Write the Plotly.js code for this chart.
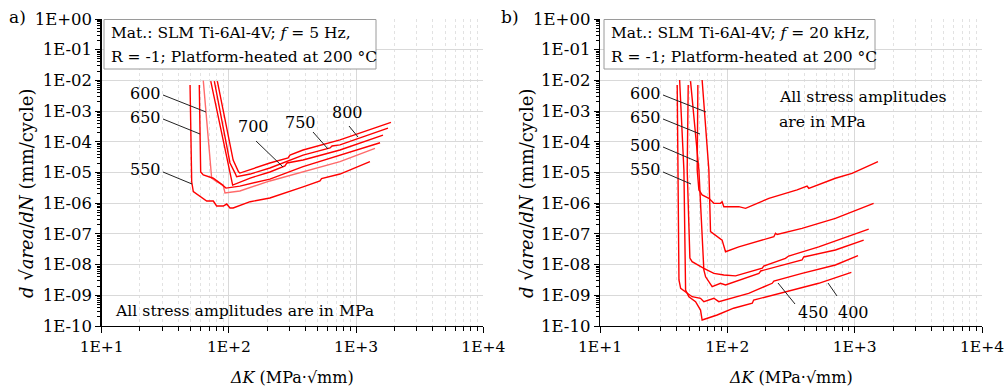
<!DOCTYPE html>
<html><head><meta charset="utf-8">
<script src="https://cdn.plot.ly/plotly-3.0.1.min.js"></script>
<style>html,body{margin:0;padding:0;background:#fff}</style>
</head><body><div id="chart" style="width:1005px;height:391px"></div>
<script>
// ---------- data: panel a) f = 5 Hz ----------
const a550x = [49.5, 51.0, 52.5, 62.9, 66.9, 75.4, 80.1, 90.3, 96.1, 102, 108, 147, 210, 383, 520, 535, 747, 1285];
const a550y = [7.1e-3, 5.0e-6, 2.4e-6, 1.48e-6, 1.18e-6, 1.18e-6, 8.1e-7, 8.1e-7, 9.4e-7, 7.0e-7, 7.0e-7, 1.12e-6, 1.48e-6, 3.4e-6, 5.3e-6, 6.3e-6, 8.9e-6, 2.25e-5];
const a600x = [62.9, 73.2, 80.1, 90.3, 93.1, 122, 210, 383, 747, 1408];
const a600y = [9.8e-3, 6.5e-6, 5.0e-6, 3.9e-6, 2.15e-6, 2.5e-6, 5.3e-6, 1.06e-5, 2.25e-5, 6.1e-5];
const a650x = [58.5, 60.0, 62.9, 75.4, 85.1, 94.9, 122, 210, 383, 747, 1543];
const a650y = [7.1e-3, 1.04e-5, 8.3e-6, 6.5e-6, 4.5e-6, 3.1e-6, 3.6e-6, 6.1e-6, 1.55e-5, 3.7e-5, 9.3e-5];
const a700x = [72.0, 98.9, 102, 105, 107, 147, 210, 276, 286, 383, 747, 1627];
const a700y = [9.5e-3, 1.75e-5, 8.3e-6, 5.0e-6, 3.9e-6, 6.6e-6, 1.04e-5, 1.63e-5, 2.04e-5, 2.55e-5, 5.4e-5, 1.66e-4];
const a750x = [76.8, 102, 112, 115, 147, 210, 383, 624, 647, 747, 1781];
const a750y = [9.5e-3, 2.04e-5, 9.4e-6, 7.3e-6, 8.9e-6, 1.40e-5, 3.7e-5, 6.3e-5, 7.3e-5, 7.9e-5, 2.8e-4];
const a800x = [81.1, 108, 119, 122, 210, 292, 302, 383, 747, 1880];
const a800y = [9.5e-3, 2.55e-5, 1.06e-5, 9.6e-6, 2.04e-5, 2.97e-5, 3.7e-5, 5.4e-5, 1.15e-4, 4.3e-4];

// ---------- data: panel b) f = 20 kHz ----------
const b650x = [58.7, 58.0, 59.8, 63.4, 71.6, 78.4, 88.4, 91.0, 93.9, 96.8, 123, 139, 212, 353, 423, 436, 706, 953, 1524];
const b650y = [7.1e-3, 1.21e-5, 2.7e-6, 1.85e-6, 1.44e-6, 9.9e-7, 9.9e-7, 1.12e-6, 7.7e-7, 7.7e-7, 7.7e-7, 6.8e-7, 1.44e-6, 2.7e-6, 3.6e-6, 3.06e-6, 6.5e-6, 9.4e-6, 2.25e-5];
const b600x = [63.4, 71.6, 73.8, 80.8, 91.0, 96.8, 123, 232, 239, 246, 386, 706, 1409];
const b600y = [1.03e-2, 1.21e-5, 1.18e-7, 9.2e-8, 6.3e-8, 2.63e-8, 3.8e-8, 8.1e-8, 1.05e-7, 9.6e-8, 1.52e-7, 3.2e-7, 9.9e-7];
const b550x = [49.3, 48.4, 50.8, 52.9, 65.4, 69.5, 78.4, 93.9, 116, 188, 193, 286, 303, 522, 1289];
const b550y = [7.1e-3, 1.21e-5, 1.64e-8, 1.24e-8, 7.6e-9, 6.7e-9, 5.2e-9, 4.6e-9, 4.3e-9, 7.6e-9, 9.0e-9, 1.60e-8, 1.9e-8, 3.8e-8, 1.44e-7];
const b500x = [51.4, 59.8, 65.4, 67.5, 76.0, 88.4, 96.8, 177, 183, 386, 398, 706, 1177];
const b500y = [9.5e-3, 1.21e-5, 6.7e-9, 4.0e-9, 1.91e-9, 2.46e-9, 2.17e-9, 5.2e-9, 6.2e-9, 1.41e-8, 1.77e-8, 2.99e-8, 6.3e-8];
const b450x = [40.4, 40.9, 41.7, 43.0, 48.4, 52.9, 61.6, 65.4, 78.4, 85.7, 147, 225, 232, 386, 706, 1062];
const b450y = [7.1e-3, 1.21e-5, 3.15e-9, 1.69e-9, 1.16e-9, 9.0e-10, 8.0e-10, 6.2e-10, 8.0e-10, 6.2e-10, 1.16e-9, 2.46e-9, 2.92e-9, 5.2e-9, 9.7e-9, 1.95e-8];
const b400x = [42.2, 45.6, 47.0, 49.9, 56.3, 61.6, 63.4, 69.5, 83.2, 112, 157, 161, 286, 522, 942];
const b400y = [1.03e-2, 1.21e-5, 1.49e-9, 9.0e-10, 6.2e-10, 3.3e-10, 1.57e-10, 1.78e-10, 2.28e-10, 3.8e-10, 5.5e-10, 7.0e-10, 1.31e-9, 2.46e-9, 5.6e-9];

// ---------- tick labels ----------
const xTickVals = [10, 100, 1000, 10000];
const xTickText = ["1E+1", "1E+2", "1E+3", "1E+4"];
const yTickVals = [1e-10, 1e-9, 1e-8, 1e-7, 1e-6, 1e-5, 1e-4, 1e-3, 1e-2, 1e-1, 1];
const yTickText = ["1E-10", "1E-09", "1E-08", "1E-07", "1E-06", "1E-05", "1E-04", "1E-03", "1E-02", "1E-01", "1E+00"];

const FONT = "DejaVu Serif";
const RED = "#ff0000";
const W = 1005, H = 391;
const PX = v => v / W, PY = v => 1 - v / H;

function minorVals(lo, hi) {
  const out = [];
  for (let e = lo; e < hi; e++) for (let m = 2; m <= 9; m++) out.push(m * Math.pow(10, e));
  return out;
}

function tr(x, y, xa, ya, name, color) {
  return {x: x, y: y, xaxis: xa, yaxis: ya, name: name, type: 'scatter', mode: 'lines',
          line: {color: color || RED, width: 1.4}, hoverinfo: 'x+y+name', showlegend: false};
}

const data = [
  tr(a550x, a550y, 'x', 'y', '550 MPa (5 Hz)'),
  tr(a600x, a600y, 'x', 'y', '600 MPa (5 Hz)', '#ff6a6a'),
  tr(a650x, a650y, 'x', 'y', '650 MPa (5 Hz)'),
  tr(a700x, a700y, 'x', 'y', '700 MPa (5 Hz)'),
  tr(a750x, a750y, 'x', 'y', '750 MPa (5 Hz)'),
  tr(a800x, a800y, 'x', 'y', '800 MPa (5 Hz)'),
  tr(b400x, b400y, 'x2', 'y2', '400 MPa (20 kHz)'),
  tr(b450x, b450y, 'x2', 'y2', '450 MPa (20 kHz)'),
  tr(b500x, b500y, 'x2', 'y2', '500 MPa (20 kHz)'),
  tr(b550x, b550y, 'x2', 'y2', '550 MPa (20 kHz)'),
  tr(b600x, b600y, 'x2', 'y2', '600 MPa (20 kHz)'),
  tr(b650x, b650y, 'x2', 'y2', '650 MPa (20 kHz)')
];

function xAxis(domain, anchor) {
  return {type: 'log', range: [1, 4], domain: domain, anchor: anchor,
    tickmode: 'array', tickvals: xTickVals, ticktext: xTickText,
    ticks: 'outside', ticklen: 6, tickwidth: 1, tickcolor: '#000',
    showline: true, linecolor: '#000', linewidth: 1.3, mirror: false,
    showgrid: true, gridcolor: '#d9d9d9', gridwidth: 1, zeroline: false,
    tickfont: {family: FONT, size: 15.5, color: '#000'}, ticklabeloverflow: 'allow',
    minor: {tickmode: 'array', tickvals: minorVals(1, 4), ticks: 'outside', ticklen: 4,
            tickcolor: '#000', tickwidth: 1, showgrid: true, gridcolor: '#e2e2e2', griddash: 'dot', gridwidth: 1},
    fixedrange: true};
}
function yAxis(anchor) {
  return {type: 'log', range: [-10, 0], domain: [1 - 326 / H, 1 - 19 / H], anchor: anchor,
    tickmode: 'array', tickvals: yTickVals, ticktext: yTickText,
    ticks: 'outside', ticklen: 5, tickwidth: 1, tickcolor: '#000',
    showline: true, linecolor: '#000', linewidth: 1.3, mirror: false,
    showgrid: true, gridcolor: '#d9d9d9', gridwidth: 1, zeroline: false,
    tickfont: {family: FONT, size: 16.5, color: '#000'}, ticklabeloverflow: 'allow',
    minor: {tickmode: 'array', tickvals: minorVals(-10, 0), ticks: 'outside', ticklen: 3,
            tickcolor: '#000', tickwidth: 1, showgrid: false},
    fixedrange: true};
}

function txt(t, x, y, opts) {
  return Object.assign({text: t, xref: 'paper', yref: 'paper', x: PX(x), y: PY(y),
    xanchor: 'center', yanchor: 'middle', showarrow: false,
    font: {family: FONT, size: 16, color: '#000'}}, opts || {});
}
function lead(x0, y0, x1, y1) {
  return {type: 'line', xref: 'paper', yref: 'paper', x0: PX(x0), y0: PY(y0), x1: PX(x1), y1: PY(y1),
          line: {color: '#222', width: 1}};
}
function box(x0, y0, x1, y1) {
  return {type: 'rect', xref: 'paper', yref: 'paper', x0: PX(x0), y0: PY(y0), x1: PX(x1), y1: PY(y1),
          line: {color: '#9a9a9a', width: 1}, fillcolor: '#ffffff', layer: 'above'};
}

const yTitle = "<i>d</i> √<i>area</i>/<i>dN</i> (mm/cycle)";
const xTitle = "<i>ΔK</i> (MPa·√mm)";
const BOXF = {xanchor: 'left', font: {family: FONT, size: 15.5, color: '#000'}};
const NOTEF = {xanchor: 'left', font: {family: FONT, size: 15.7, color: '#000'}};
const YTF = {textangle: -90, font: {family: FONT, size: 18, color: '#000'}};

const annotations = [
  txt("a)", 17, 17, {font: {family: FONT, size: 17, color: '#000'}}),
  txt("b)", 510, 17, {font: {family: FONT, size: 17, color: '#000'}}),
  txt(yTitle, 27, 193, YTF),
  txt(yTitle, 527, 193, YTF),
  txt(xTitle, 292, 377),
  txt(xTitle, 791, 377),
  txt("Mat.: SLM Ti-6Al-4V; <i>f</i> = 5 Hz,", 109, 33, BOXF),
  txt("R = -1; Platform-heated at 200 °C", 109, 57, BOXF),
  txt("Mat.: SLM Ti-6Al-4V; <i>f</i> = 20 kHz,", 609, 33, BOXF),
  txt("R = -1; Platform-heated at 200 °C", 609, 57, BOXF),
  txt("All stress amplitudes are in MPa", 113, 310, NOTEF),
  txt("All stress amplitudes", 777, 97, NOTEF),
  txt("are in MPa", 777, 121, NOTEF),
  txt("600", 145, 93), txt("650", 145, 118), txt("550", 145, 170),
  txt("700", 254, 127), txt("750", 300, 122), txt("800", 347, 113),
  txt("600", 645, 93), txt("650", 645, 118), txt("500", 645, 145), txt("550", 645, 170),
  txt("450", 813, 312), txt("400", 853, 312)
];

const shapes = [
  box(104, 19.5, 376, 69), box(604, 19.5, 875, 69),
  lead(163, 95, 206, 112), lead(163, 119, 200, 134), lead(163, 172, 192, 184),
  lead(256, 141, 283, 167), lead(313, 132, 328, 149), lead(349, 126, 358, 137),
  lead(663, 95, 706, 112), lead(663, 119, 700, 134), lead(663, 147, 698, 162), lead(663, 172, 691, 184),
  lead(795, 304, 778, 283), lead(837, 296, 828, 283)
];

const layout = {
  width: W, height: H, margin: {l: 0, r: 0, t: 0, b: 0},
  paper_bgcolor: '#fff', plot_bgcolor: '#fff', showlegend: false,
  font: {family: FONT, size: 16, color: '#000'},
  xaxis: xAxis([101.7 / W, 483.3 / W], 'y'),
  yaxis: yAxis('x'),
  xaxis2: xAxis([600 / W, 982 / W], 'y2'),
  yaxis2: yAxis('x2'),
  annotations: annotations, shapes: shapes
};

Plotly.newPlot('chart', data, layout, {displayModeBar: false, staticPlot: true});
</script></body></html>
